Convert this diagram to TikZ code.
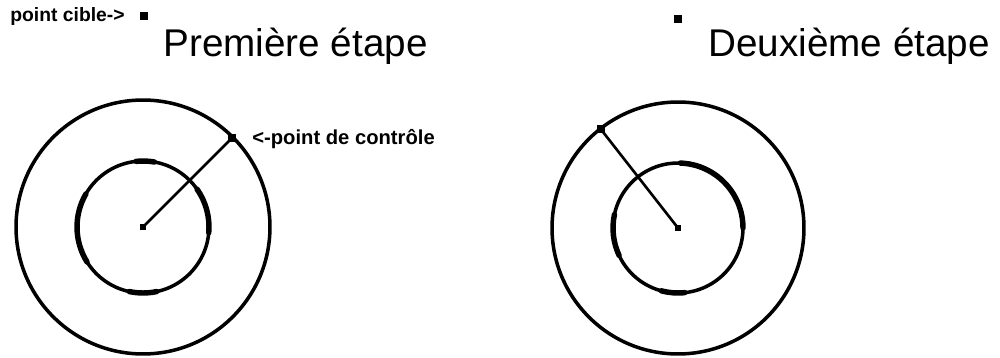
\documentclass[tikz,border=0pt]{standalone}
\usepackage{fontspec}
\setmainfont{Liberation Sans}
\usetikzlibrary{positioning}

\begin{document}
\begin{tikzpicture}[
    x=0.02cm, y=-0.02cm,
    ring/.style={draw, line width=2pt},
    rim/.style={line width=3.1pt, line cap=round},
    spoke/.style={line width=1.5pt},
    dot/.style={draw, fill, rectangle, inner sep=0pt, minimum size=2.8pt},
    cdot/.style={dot, minimum size=4pt},
    tdot/.style={dot, minimum size=3.6pt},
    title/.style={font=\fontsize{22}{24}\selectfont, anchor=base west, inner sep=0pt},
    note/.style={font=\fontsize{11}{13}\selectfont\bfseries, anchor=base west, inner sep=0pt}
]
    \useasboundingbox (0,0) rectangle (1000,358);

    % First step
    \coordinate (c1) at (143,227);
    \coordinate (k1) at ([shift={(45:2.52cm)}]c1);
    \draw[ring] (c1) circle[radius=2.54cm];
    \draw[ring] (c1) circle[radius=1.32cm];
    \draw[rim] ([shift={(150:1.32cm)}]c1) arc[start angle=150, end angle=212, radius=1.32cm];
    \draw[rim] ([shift={(258:1.32cm)}]c1) arc[start angle=258, end angle=282, radius=1.32cm];
    \draw[rim] ([shift={(-5:1.32cm)}]c1) arc[start angle=-5, end angle=35, radius=1.32cm];
    \draw[rim] ([shift={(80:1.32cm)}]c1) arc[start angle=80, end angle=96, radius=1.32cm];
    \draw[spoke] (c1) -- (k1);
    \node (m1) [dot] at (c1) {};
    \node (p1) [cdot] at (k1) {};
    \node (t1) [tdot] at (144,16) {};
    \node (cible) [note] at (10,22) {point cible->};
    \node (etape1) [title] at (163,57) {Première étape};
    \node (ctrl) [note, font=\fontsize{11.5}{13}\selectfont\bfseries] at (252,144) {<-point de contrôle};

    % Second step
    \coordinate (c2) at (678,228);
    \coordinate (k2) at ([shift={(128:2.52cm)}]c2);
    \draw[ring] (c2) circle[radius=2.52cm];
    \draw[ring] (c2) circle[radius=1.3cm];
    \draw[rim] ([shift={(0:1.3cm)}]c2) arc[start angle=0, end angle=88, radius=1.3cm];
    \draw[rim] ([shift={(168:1.3cm)}]c2) arc[start angle=168, end angle=205, radius=1.3cm];
    \draw[rim] ([shift={(255:1.3cm)}]c2) arc[start angle=255, end angle=276, radius=1.3cm];
    \draw[spoke] (c2) -- (k2);
    \node (m2) [dot] at (c2) {};
    \node (p2) [cdot] at (k2) {};
    \node (t2) [tdot] at (678,19) {};
    \node (etape2) [title] at (708,57) {Deuxième étape};
\end{tikzpicture}
\end{document}
